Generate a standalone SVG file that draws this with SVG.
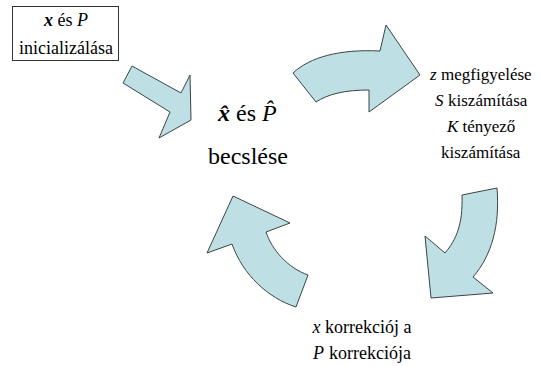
<svg xmlns="http://www.w3.org/2000/svg" width="540" height="366" viewBox="0 0 540 366">
<rect width="540" height="366" fill="#fff"/>
<g id="init">
<rect x="12.5" y="6.5" width="106" height="54" fill="#fff" stroke="#333" stroke-width="1"/>
<text x="44" y="26" font-size="18" font-family="Liberation Serif" font-style="italic" font-weight="bold">x</text>
<text x="57.5" y="26" font-size="18" font-family="Liberation Serif">és</text>
<text x="77" y="26" font-size="18" font-family="Liberation Serif" font-style="italic">P</text>
<text x="19" y="54" font-size="18" font-family="Liberation Serif">inicializálása</text>
</g>
<g id="estimate">
<text x="218" y="121" font-size="24" font-family="Liberation Serif" font-style="italic" font-weight="bold">x̂</text>
<text x="236" y="121" font-size="24" font-family="Liberation Serif">és</text>
<text x="262" y="121" font-size="24" font-family="Liberation Serif" font-style="italic">P̂</text>
<text x="208" y="164" font-size="24" font-family="Liberation Serif">becslése</text>
</g>
<g id="measure">
<text x="430" y="80" font-size="17" font-family="Liberation Serif" font-style="italic">z</text>
<text x="441" y="80" font-size="17" font-family="Liberation Serif">megfigyelése</text>
<text x="435" y="106" font-size="17" font-family="Liberation Serif" font-style="italic">S</text>
<text x="448" y="106" font-size="17" font-family="Liberation Serif">kiszámítása</text>
<text x="447" y="132" font-size="17" font-family="Liberation Serif" font-style="italic">K</text>
<text x="462.5" y="132" font-size="17" font-family="Liberation Serif">tényező</text>
<text x="441" y="158" font-size="17" font-family="Liberation Serif">kiszámítása</text>
</g>
<g id="correct">
<text x="312.5" y="333" font-size="18" font-family="Liberation Serif" font-style="italic">x</text>
<text x="325" y="333" font-size="18" font-family="Liberation Serif">korrekciój a</text>
<text x="313" y="359" font-size="18" font-family="Liberation Serif" font-style="italic">P</text>
<text x="329" y="359" font-size="18" font-family="Liberation Serif">korrekciója</text>
</g>
<g id="connectors" fill="#BEE0E4" stroke="#3c4444" stroke-width="1" stroke-linejoin="round">
<polygon points="132,66 181,93 190,75 191,120 159,138 170,112 123,83"/>
<path d="M293,73 C310,57 340,49 380,51 L386,25 L420,75 L369,112 L369,90 C345,90 328,94 316,102 Z"/>
<path d="M462,195 L497,188 C500,225 492,255 473,277 L493,293 L431,298 L425,236 L445,253 C456,240 463,225 462,195 Z"/>
<path d="M296,307 C268,298 243,275 232,244 L207,253 L233,196 L290,223 L266,232 C272,250 288,268 308,275 Z"/>
</g>
</svg>
